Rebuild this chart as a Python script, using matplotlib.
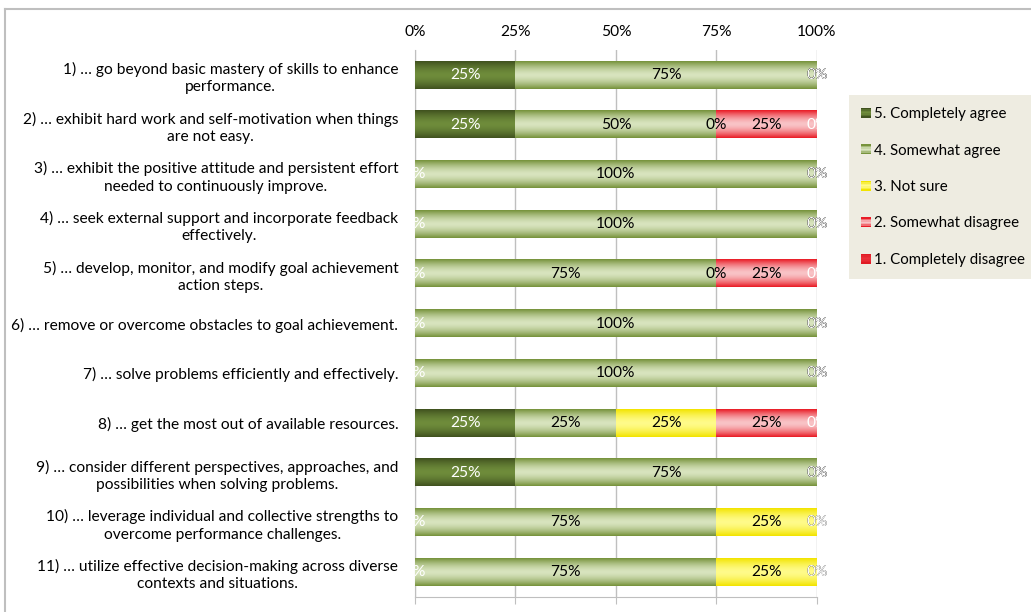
import numpy as np
import matplotlib
matplotlib.use("Agg")
from matplotlib import pyplot as plt
from matplotlib.colors import to_rgb
from matplotlib.legend_handler import HandlerBase
from matplotlib.patches import Rectangle
from matplotlib.lines import Line2D

statements = [
    "1) … go beyond basic mastery of skills to enhance\nperformance.",
    "2) … exhibit hard work and self-motivation when things\nare not easy.",
    "3) … exhibit the positive attitude and persistent effort\nneeded to continuously improve.",
    "4) … seek external support and incorporate feedback\neffectively.",
    "5) … develop, monitor, and modify goal achievement\naction steps.",
    "6) … remove or overcome obstacles to goal achievement.",
    "7) … solve problems efficiently and effectively.",
    "8) … get the most out of available resources.",
    "9) … consider different perspectives, approaches, and\npossibilities when solving problems.",
    "10) … leverage individual and collective strengths to\novercome performance challenges.",
    "11) … utilize effective decision-making across diverse\ncontexts and situations.",
]

answers = ["5. Completely agree", "4. Somewhat agree", "3. Not sure",
           "2. Somewhat disagree", "1. Completely disagree"]

completely_agree = [25, 25, 0, 0, 0, 0, 0, 25, 25, 0, 0]
somewhat_agree = [75, 50, 100, 100, 75, 100, 100, 25, 75, 75, 75]
not_sure = [0, 0, 0, 0, 0, 0, 0, 25, 0, 25, 25]
somewhat_disagree = [0, 25, 0, 0, 25, 0, 0, 25, 0, 0, 0]
completely_disagree = [0, 0, 0, 0, 0, 0, 0, 0, 0, 0, 0]

x_ticks = [0, 25, 50, 75, 100]

# (edge colour, centre colour, label colour) per answer
styles = [
    ("#40521f", "#6f8c3b", "white"),
    ("#77933c", "#d8e4be", "black"),
    ("#f2e400", "#fffb8a", "black"),
    ("#e91d27", "#f9c4c7", "black"),
    ("#e01b24", "#ea3038", "white"),
]

plt.rcParams["font.family"] = ["Lato", "DejaVu Sans"]
FS = 11.2


def band(edge, centre, n=40):
    t = np.abs(np.linspace(-1, 1, n)) ** 1.6
    e = np.array(to_rgb(edge))
    c = np.array(to_rgb(centre))
    rows = c[None, :] + (e - c)[None, :] * t[:, None]
    return rows[:, None, :]


class BandHandler(HandlerBase):
    def __init__(self, edge, centre):
        super().__init__()
        self.edge = edge
        self.centre = centre

    def create_artists(self, legend, orig_handle, xdescent, ydescent,
                       width, height, fontsize, trans):
        cols = band(self.edge, self.centre, 7)[:, 0, :]
        n = len(cols)
        out = []
        for i, c in enumerate(cols):
            out.append(Rectangle((-xdescent, -ydescent + height * i / n),
                                 width, height / n, facecolor=c,
                                 edgecolor="none", transform=trans))
        return out


fig = plt.figure(figsize=(10.31, 6.12), dpi=100)
ax = fig.add_axes([0.4025, 0.0245, 0.3899, 0.8938])

series = [completely_agree, somewhat_agree, not_sure,
          somewhat_disagree, completely_disagree]
y = np.arange(len(statements))
height = 0.55
left = np.zeros(len(statements))
handles = []
for vals, (edge, centre, txt) in zip(series, styles):
    vals = np.array(vals, dtype=float)
    bars = ax.barh(y, vals, left=left, height=height, color=centre,
                   edgecolor="none", zorder=2)
    handles.append(bars[0])
    grad = band(edge, centre)
    for yi, l, w in zip(y, left, vals):
        if w > 0:
            ax.imshow(grad, extent=(l, l + w, yi + height / 2, yi - height / 2),
                      aspect="auto", interpolation="bilinear", zorder=3)
    for yi, l, w in zip(y, left, vals):
        ax.text(l + w / 2, yi, "%d%%" % w, ha="center", va="center",
                color=txt, fontsize=FS, zorder=4, clip_on=False)
    left = left + vals

ax.set_xlim(0, 100)
ax.set_ylim(len(statements) - 0.5, -0.5)
ax.set_aspect("auto")

ax.set_xticks(x_ticks)
ax.set_xticklabels(["%d%%" % t for t in x_ticks])
ax.tick_params(axis="x", top=False, bottom=True, labeltop=True,
               labelbottom=False, length=5, color="#bfbfbf", pad=3,
               labelsize=FS)
ax.set_yticks(y)
ax.set_yticklabels(statements)
ax.tick_params(axis="y", length=0, pad=12, labelsize=FS)
for lab in ax.get_yticklabels():
    lab.set_multialignment("center")
    lab.set_linespacing(1.3)

ax.grid(axis="x", color="#bfbfbf", lw=1)
ax.set_axisbelow(True)
for side in ["top", "right"]:
    ax.spines[side].set_visible(False)
for side in ["left", "bottom"]:
    ax.spines[side].set_color("#bfbfbf")

leg = fig.legend(handles, answers, loc="upper left",
                 bbox_to_anchor=(849 / 1031, 1 - 95 / 612),
                 handler_map={h: BandHandler(s[0], s[1]) for h, s in zip(handles, styles)},
                 frameon=True, facecolor="#eeece1", edgecolor="none",
                 fancybox=False, fontsize=10.8, handlelength=0.65,
                 handleheight=0.65, handletextpad=0.25, labelspacing=1.5,
                 borderpad=0.8, borderaxespad=0)
leg.get_frame().set_alpha(1)

# outer frame
fig.add_artist(Line2D([5 / 1031, 1], [1 - 9 / 612, 1 - 9 / 612],
                      transform=fig.transFigure, color="#bfbfbf", lw=1.5))
fig.add_artist(Line2D([5 / 1031, 5 / 1031], [0, 1 - 9 / 612],
                      transform=fig.transFigure, color="#bfbfbf", lw=1.5))

fig.savefig("out.png", dpi=100)
